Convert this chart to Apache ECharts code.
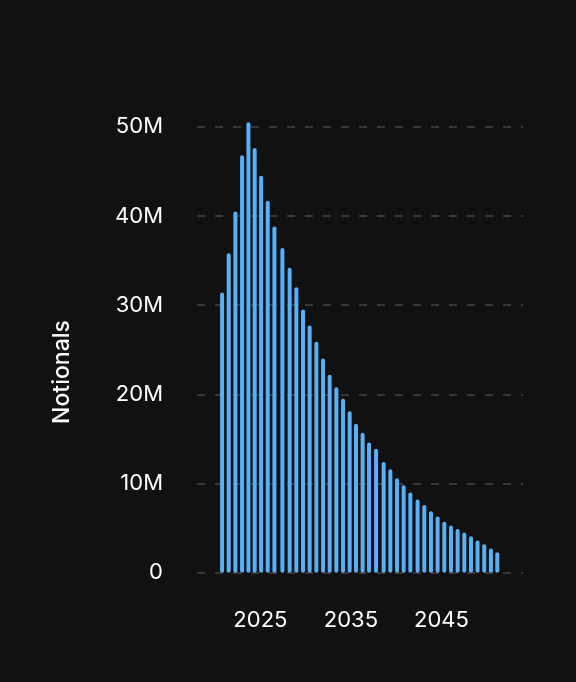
<!DOCTYPE html>
<html>
<head>
<meta charset="utf-8">
<script src="https://cdn.jsdelivr.net/npm/echarts@6/dist/echarts.min.js"></script>
<style>
  html, body { margin: 0; padding: 0; background: #111111; }
  #chart { width: 576px; height: 682px; }
</style>
</head>
<body>
<div id="chart"></div>
<script>
// bar dates as decimal years
const periods = [
  2020.77, 2021.50, 2022.24, 2022.98, 2023.68, 2024.37, 2025.08, 2025.81, 2026.55, 2027.43,
  2028.23, 2028.97, 2029.71, 2030.44, 2031.18, 2031.92, 2032.65, 2033.39, 2034.13, 2034.86,
  2035.56, 2036.29, 2037.00, 2037.77, 2038.61, 2039.35, 2040.09, 2040.82, 2041.56, 2042.36,
  2043.10, 2043.84, 2044.57, 2045.31, 2046.05, 2046.78, 2047.52, 2048.26, 2048.98, 2049.72,
  2050.46, 2051.16
]
// notionals, in millions
const notionals = [
  31.4, 35.8, 40.5, 46.8, 50.5, 47.6, 44.5, 41.7, 38.8, 36.4,
  34.2, 32.0, 29.5, 27.7, 25.9, 24.0, 22.2, 20.8, 19.5, 18.1,
  16.7, 15.7, 14.6, 13.9, 12.4, 11.6, 10.6, 9.8, 9.0, 8.2,
  7.6, 6.9, 6.3, 5.7, 5.3, 4.9, 4.5, 4.1, 3.6, 3.2,
  2.7, 2.3
]
const yearLabels = [2025, 2035, 2045]
const yTicks = [0, 10, 20, 30, 40, 50]

const font = 'Inter, "Open Sans", sans-serif'
const myChart = echarts.init(document.getElementById('chart'))

const option = {
  backgroundColor: '#111111',
  animation: false,
  grid: {
    left: 197,
    right: 53,
    top: 126.7,
    bottom: 109.3
  },
  xAxis: {
    type: 'value',
    min: 2018,
    max: 2054,
    axisLine: { show: false },
    axisTick: { show: false },
    splitLine: { show: false },
    axisLabel: {
      customValues: yearLabels,
      formatter: v => String(v),
      margin: 37,
      color: '#ffffff',
      fontFamily: font,
      fontSize: 22
    }
  },
  yAxis: {
    type: 'value',
    min: yTicks[0],
    max: yTicks[yTicks.length - 1],
    interval: 10,
    axisLine: { show: false },
    axisTick: { show: false },
    axisLabel: {
      formatter: v => (v === 0 ? '0' : v + 'M'),
      margin: 34,
      color: '#ffffff',
      fontFamily: font,
      fontSize: 22
    },
    splitLine: {
      lineStyle: {
        color: '#444444',
        width: 1.5,
        type: [8, 10]
      }
    }
  },
  graphic: [
    {
      type: 'text',
      x: 62,
      y: 372,
      rotation: Math.PI / 2,
      style: {
        text: 'Notionals',
        fill: '#ffffff',
        font: '500 23px ' + font,
        align: 'center',
        verticalAlign: 'middle'
      }
    }
  ],
  series: [
    {
      type: 'bar',
      name: 'Notionals',
      clip: false,
      barWidth: 4,
      data: periods.map((p, i) => [p, notionals[i]]),
      itemStyle: {
        color: '#58b1f8',
        borderRadius: 2
      }
    }
  ]
}
myChart.setOption(option)
</script>
</body>
</html>
